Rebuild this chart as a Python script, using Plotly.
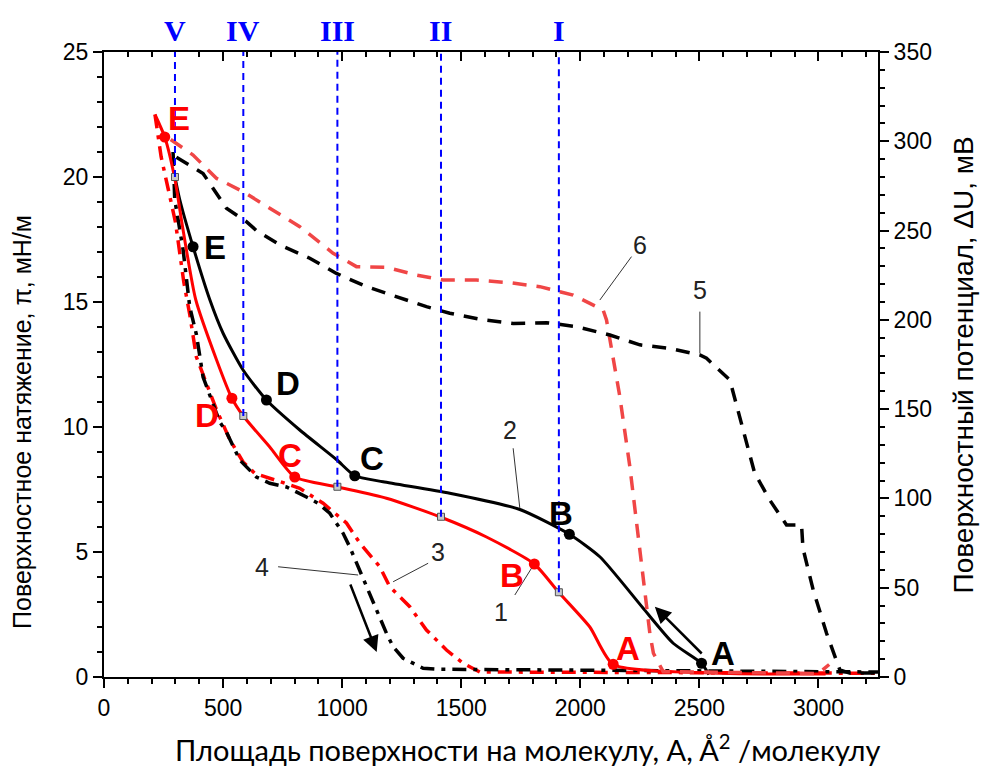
import plotly.graph_objects as go

# ---------------- data ----------------
# left axis: surface pressure pi, mN/m ; right axis: surface potential dU, mV
c1_x = [3030, 2600, 2138, 2040, 1909, 1807, 1606, 1410, 1186, 976, 801, 696, 584, 537, 472, 385, 330, 297, 255, 214]
c1_y = [0.12, 0.15, 0.5, 2.0, 3.39, 4.52, 5.6, 6.41, 7.15, 7.61, 8.0, 9.2, 10.45, 11.15, 12.7, 15.1, 18.0, 19.95, 21.6, 22.5]

c2_x = [2540, 2509, 2390, 2264, 2082, 1954, 1746, 1452, 1172, 1053, 976, 822, 682, 584, 500, 444, 374, 318, 300]
c2_y = [0.1, 0.55, 1.35, 2.75, 4.81, 5.71, 6.7, 7.35, 7.81, 8.05, 8.7, 9.88, 11.08, 12.28, 13.75, 15.1, 17.21, 19.1, 19.9]

c3_x = [214, 240, 270, 300, 335, 360, 388, 430, 472, 528, 584, 633, 745, 822, 920, 1018, 1074, 1158, 1200, 1284, 1354, 1438, 1508, 1578, 3250]
c3_y = [22.5, 20.8, 19.5, 18.2, 15.8, 14.5, 12.8, 11.7, 10.7, 9.5, 8.6, 8.15, 7.8, 7.55, 6.95, 6.16, 5.36, 4.41, 3.61, 2.81, 1.88, 1.08, 0.55, 0.2, 0.15]

c4_x = [290, 297, 332, 360, 388, 416, 486, 514, 570, 640, 696, 766, 850, 899, 948, 1004, 1032, 1060, 1102, 1144, 1186, 1214, 1256, 1340, 1403, 3250]
c4_y = [21.0, 19.1, 17.1, 14.8, 13.7, 12.0, 10.2, 9.8, 8.68, 8.0, 7.75, 7.6, 7.2, 6.95, 6.55, 5.75, 5.2, 4.56, 3.61, 2.68, 1.75, 1.21, 0.75, 0.35, 0.31, 0.2]

c5_x = [304, 416, 514, 598, 640, 738, 864, 976, 1102, 1228, 1354, 1452, 1592, 1718, 1858, 1984, 2124, 2250, 2376, 2502, 2530, 2628, 2682, 2732, 2796, 2866, 2929, 2935, 2978, 3034, 3090, 3131, 3250]
c5_u = [291, 282, 262.5, 255, 250, 242, 234.5, 226, 218.6, 213, 207.4, 203.7, 200, 198, 198.4, 196.2, 191.5, 186, 184, 180.3, 178.5, 166.3, 138.3, 114.2, 99, 85.1, 85.1, 72, 48.7, 24.5, 3.9, 2.2, 2.2]

c6_x = [280, 374, 472, 584, 696, 822, 962, 1060, 1186, 1312, 1424, 1564, 1704, 1830, 1970, 2096, 2110, 2166, 2208, 2250, 2292, 2307, 2348, 3000, 3045]
c6_u = [301, 292.3, 279.3, 271.8, 262.5, 252.2, 237.3, 229.8, 229.4, 225.1, 222.3, 222.3, 220.8, 218.6, 213.9, 205.5, 200, 157, 117.8, 73, 24.5, 13.3, 3, 2, 7]

# labelled points A..E
pt_labels = ["A", "B", "C", "D", "E"]
black_pt_x = [2509, 1954, 1053, 682, 374]
black_pt_y = [0.55, 5.71, 8.05, 11.08, 17.21]
black_lbl_x = [2598, 1919, 1124, 772, 465]
black_lbl_y = [0.96, 6.56, 8.76, 11.76, 17.2]
red_pt_x = [2138, 1807, 801, 537, 255]
red_pt_y = [0.51, 4.52, 8.0, 11.15, 21.6]
red_lbl_x = [2199, 1712, 780, 431, 313]
red_lbl_y = [1.16, 4.08, 8.88, 10.48, 22.35]

# stages I..V (vertical guides ending on curve 1)
stage_labels = ["I", "II", "III", "IV", "V"]
stage_x = [1910, 1415, 980, 585, 298]
stage_y = [3.39, 6.41, 7.61, 10.44, 20.0]

# curve numbers and their leader lines (text pos, leader start, leader end)
num_labels = ["1", "2", "3", "4", "5", "6"]
num_axis = ["y", "y", "y", "y", "y2", "y2"]
num_tx = [1669, 1704, 1403, 663, 2502, 2250]
num_ty = [2.6, 9.88, 5.01, 4.41, 216.7, 241.9]
lead_x0 = [1725, 1718, 1361, 731, 2502, 2215]
lead_y0 = [3.28, 9.15, 4.55, 4.41, 204.6, 235.4]
lead_x1 = [1795, 1746, 1214, 1067, 2502, 2082]
lead_y1 = [4.35, 6.75, 3.81, 4.08, 181.3, 211.1]

# direction arrows (tail -> head)
arrow_tail_x = [2516, 1032]
arrow_tail_y = [0.88, 3.76]
arrow_head_x = [2313, 1145]
arrow_head_y = [2.81, 1.0]

x_ticks = [0, 500, 1000, 1500, 2000, 2500, 3000]
y_ticks = [0, 5, 10, 15, 20, 25]
u_ticks = [0, 50, 100, 150, 200, 250, 300, 350]

x_title = "Площадь поверхности на молекулу, A, Å<sup>2</sup> /молекулу"
y_title = "Поверхностное натяжение, π, мН/м"
u_title = "Поверхностный потенциал, ΔU, мВ"

RED = "#ff0000"
LRED = "#f04646"
BLUE = "#0000ff"
NARROW = "Liberation Sans Narrow, Arial Narrow, Liberation Sans, Arial"
TICKFONT = dict(family=NARROW, size=23, color="black")

fig = go.Figure()

fig.add_trace(go.Scatter(x=c6_x, y=c6_u, yaxis="y2", mode="lines",
                         line=dict(color=LRED, width=3.5, dash="14px,10px")))
fig.add_trace(go.Scatter(x=c5_x, y=c5_u, yaxis="y2", mode="lines",
                         line=dict(color="black", width=3.5, dash="14px,10px")))
fig.add_trace(go.Scatter(x=c3_x, y=c3_y, mode="lines",
                         line=dict(color=RED, width=3.5, dash="14px,7px,4px,7px")))
fig.add_trace(go.Scatter(x=c4_x, y=c4_y, mode="lines",
                         line=dict(color="black", width=3.5, dash="14px,7px,4px,7px")))
fig.add_trace(go.Scatter(x=c2_x, y=c2_y, mode="lines", line=dict(color="black", width=3, shape="spline", smoothing=0.6)))
fig.add_trace(go.Scatter(x=c1_x, y=c1_y, mode="lines", line=dict(color=RED, width=3, shape="spline", smoothing=0.6)))

fig.add_trace(go.Scatter(x=black_pt_x, y=black_pt_y, mode="markers",
                         marker=dict(color="black", size=11)))
fig.add_trace(go.Scatter(x=red_pt_x, y=red_pt_y, mode="markers",
                         marker=dict(color=RED, size=11)))

# vertical blue guides
for xv, yv in zip(stage_x, stage_y):
    fig.add_shape(type="line", xref="x", yref="y", x0=xv, x1=xv, y0=yv, y1=25,
                  line=dict(color=BLUE, width=2, dash="7px,5px"))
fig.add_trace(go.Scatter(x=stage_x, y=stage_y, mode="markers",
                         marker=dict(symbol="square", size=7, color="#c8c8c8",
                                     line=dict(color="#505050", width=1))))
for lab, xv in zip(stage_labels, stage_x):
    fig.add_annotation(x=xv, y=1.0, xref="x", yref="paper", yanchor="bottom", yshift=3,
                       text=lab, showarrow=False,
                       font=dict(family="Liberation Serif, Times New Roman", size=30, color=BLUE, weight="bold"))

# letters
for lab, xv, yv in zip(pt_labels, black_lbl_x, black_lbl_y):
    fig.add_annotation(x=xv, y=yv, text="<b>%s</b>" % lab, showarrow=False,
                       font=dict(family="Liberation Sans, Arial", size=33, color="black"))
for lab, xv, yv in zip(pt_labels, red_lbl_x, red_lbl_y):
    fig.add_annotation(x=xv, y=yv, text="<b>%s</b>" % lab, showarrow=False,
                       font=dict(family="Liberation Sans, Arial", size=33, color=RED))

# curve numbers with leader lines
for lab, ax_, tx, ty, x0, y0, x1, y1 in zip(num_labels, num_axis, num_tx, num_ty,
                                            lead_x0, lead_y0, lead_x1, lead_y1):
    fig.add_annotation(x=tx, y=ty, xref="x", yref=ax_, text=lab, showarrow=False,
                       font=dict(family="Liberation Sans, Arial", size=25, color="#222"))
    fig.add_shape(type="line", xref="x", yref=ax_, x0=x0, y0=y0, x1=x1, y1=y1,
                  line=dict(color="#333", width=1))

# direction arrows
for tx, ty, hx, hy in zip(arrow_tail_x, arrow_tail_y, arrow_head_x, arrow_head_y):
    fig.add_annotation(x=hx, y=hy, ax=tx, ay=ty, xref="x", yref="y", axref="x", ayref="y",
                       text="", showarrow=True, arrowhead=2, arrowsize=1.3,
                       arrowwidth=2.5, arrowcolor="black")

# axis titles (placed as in the reference)
fig.add_annotation(x=1.005, y=-0.114, xref="paper", yref="paper", xanchor="right", yanchor="middle",
                   text=x_title, showarrow=False,
                   font=dict(family="Lato, Noto Sans", size=29, color="black"))
fig.add_annotation(x=-0.106, y=0.408, xref="paper", yref="paper", xanchor="center", yanchor="middle",
                   text=y_title, textangle=-90, showarrow=False,
                   font=dict(family=NARROW, size=25, color="black"))
fig.add_annotation(x=1.111, y=0.5, xref="paper", yref="paper", xanchor="center", yanchor="middle",
                   text=u_title, textangle=-90, showarrow=False,
                   font=dict(family=NARROW, size=28, color="black"))

axis_common = dict(showline=True, linewidth=2, linecolor="black", showgrid=False,
                   zeroline=False, ticklen=9, tickwidth=2, tickcolor="black", automargin=False)

fig.update_layout(
    width=990, height=767,
    margin=dict(l=96, r=120, t=44, b=98),
    paper_bgcolor="white", plot_bgcolor="white",
    showlegend=False,
    xaxis=dict(range=[0, 3250], tickvals=x_ticks, ticks="outside",
               minor=dict(dtick=100, ticks="outside", ticklen=5, tickwidth=1.5, tickcolor="black"),
               tickfont=TICKFONT, **axis_common),
    xaxis2=dict(range=[0, 3250], overlaying="x", side="top", anchor="y", tickvals=x_ticks,
                ticks="inside", showticklabels=False,
                minor=dict(dtick=100, ticks="inside", ticklen=5, tickwidth=1.5, tickcolor="black"),
                **axis_common),
    yaxis=dict(range=[0, 25], tickvals=y_ticks, ticks="outside",
               minor=dict(dtick=1, ticks="outside", ticklen=5, tickwidth=1.5, tickcolor="black"),
               tickfont=TICKFONT, **axis_common),
    yaxis2=dict(range=[0, 350], overlaying="y", side="right", anchor="x", tickvals=u_ticks,
                ticks="outside",
                minor=dict(dtick=10, ticks="outside", ticklen=5, tickwidth=1.5, tickcolor="black"),
                tickfont=TICKFONT, **axis_common),
)
# attach an empty reference to the top axis so it is drawn
fig.add_trace(go.Scatter(x=[None], y=[None], xaxis="x2", mode="lines", showlegend=False))

fig.write_html("out.html")
